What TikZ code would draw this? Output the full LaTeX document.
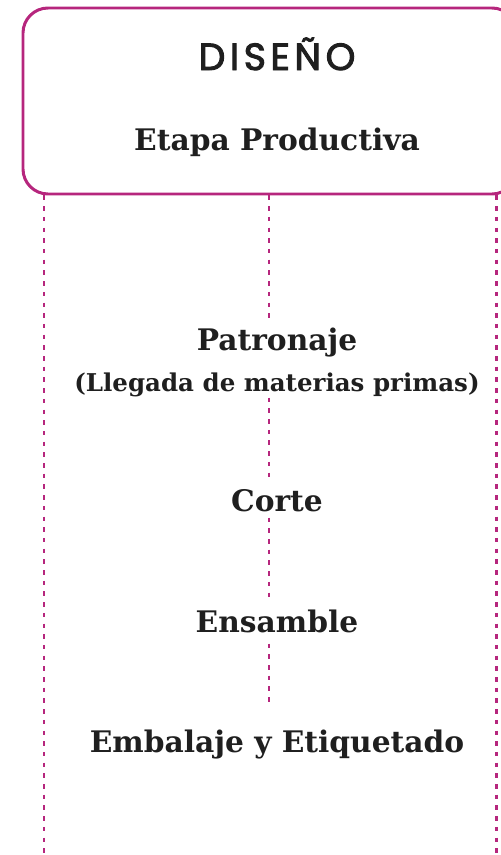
\documentclass[tikz,border=0pt]{standalone}
\usepackage{fontspec}
\setmainfont{DejaVu Serif}
\newfontfamily\rotulofont[LetterSpace=12, FakeBold=2.5]{Poppins}
\usetikzlibrary{positioning}

\definecolor{rosa}{RGB}{182,38,125}

\tikzset{
  marco/.style={draw=rosa, line width=3pt, rounded corners=25bp},
  punteado/.style={draw=rosa, line width=3pt, dash pattern=on 4.5bp off 6.2bp},
  etapa/.style={font=\bfseries\fontsize{29.8}{32}\selectfont, inner sep=0pt, anchor=base, text=black!88},
  nota/.style={font=\bfseries\fontsize{24.6}{27}\selectfont, inner sep=0pt, anchor=base, text=black!88},
}

\begin{document}
\begin{tikzpicture}[x=1bp, y=-1bp]
  \useasboundingbox (0,0) rectangle (501,855);
  \clip (0,0) rectangle (501,855);

  % -- Caja superior --
  \node[marco, minimum width=494bp, minimum height=186bp] (diseno) at (270,101) {};
  \node[inner sep=0pt, anchor=base, font=\rotulofont\fontsize{38}{40}\selectfont, text=black!88]
    (titulo) at (277,70) {DISEÑO};
  \node[etapa] (productiva) at (277,150) {Etapa Productiva};

  % -- Etapas --
  \node[etapa] (patronaje) at (277,350) {Patronaje};
  \node[nota] (llegada) at (277,391) {(Llegada de materias primas)};
  \node[etapa] (corte) at (277,511) {Corte};
  \node[etapa] (ensamble) at (277,632) {Ensamble};
  \node[etapa] (embalaje) at (277,752) {Embalaje y Etiquetado};

  % -- Eje central punteado --
  \coordinate (eje) at (269,0);
  \draw[punteado, shorten >=7bp] (eje |- diseno.south) -- (eje |- patronaje.north);
  \draw[punteado, shorten <=1bp, shorten >=11bp] (eje |- llegada.south) -- (eje |- corte.north);
  \draw[punteado, shorten <=6bp, shorten >=10bp] (eje |- corte.south) -- (eje |- ensamble.north);
  \draw[punteado, shorten <=11bp, shorten >=23bp] (eje |- ensamble.south) -- (eje |- embalaje.north);

  % -- Laterales --
  \coordinate (izq) at (44,855);
  \coordinate (der) at (496,855);
  \draw[punteado] (diseno.south -| izq) -- (izq);
  \draw[punteado] (diseno.south -| der) -- (der);

\end{tikzpicture}
\end{document}
